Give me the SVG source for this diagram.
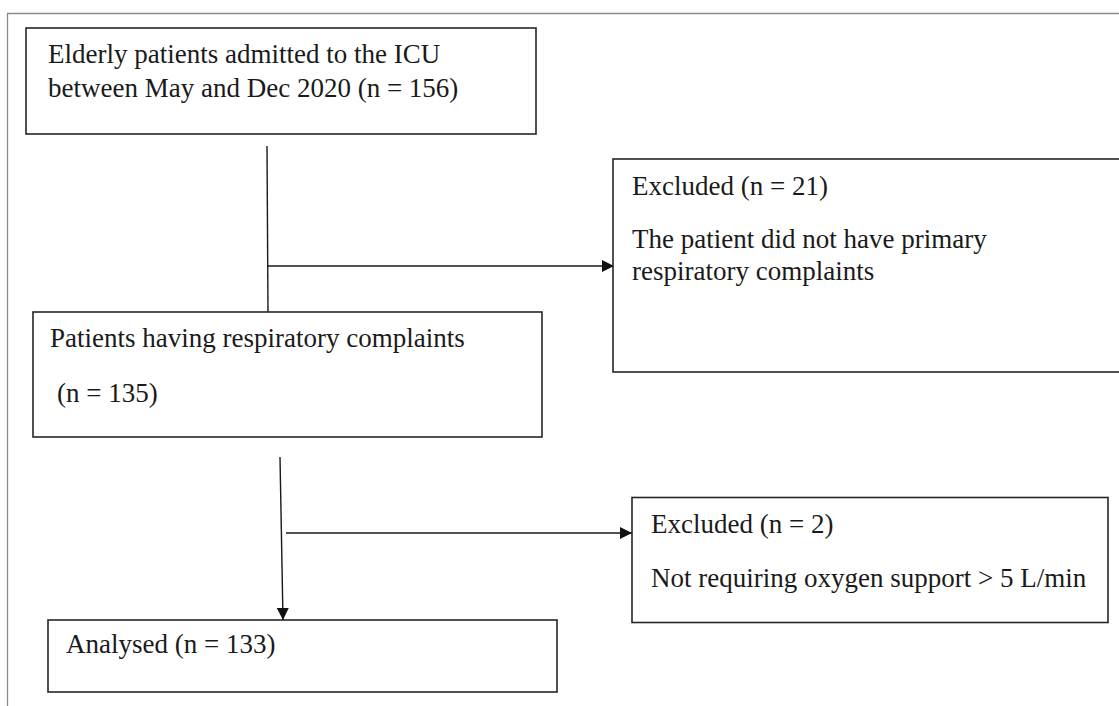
<svg xmlns="http://www.w3.org/2000/svg" width="1119" height="706" viewBox="0 0 1119 706">
<defs>
<style>
.box{fill:#fff;stroke:#262626;stroke-width:1.6}
.t{font-family:"Liberation Serif","Times New Roman",serif;font-size:27px;fill:#1a1a1a}
.ln{stroke:#1a1a1a;stroke-width:1.4;fill:none}
</style>
<marker id="arr" viewBox="0 0 12 12" refX="12" refY="6" markerWidth="12" markerHeight="12" markerUnits="userSpaceOnUse" orient="auto">
<path d="M0,0 L12,6 L0,12 z" fill="#111"/>
</marker>
</defs>
<rect width="1119" height="706" fill="#fff"/>
<path d="M7.5,706 V13.5 H1119" stroke="#8a8a8a" stroke-width="1.3" fill="none"/>
<g id="connectors">
<line class="ln" x1="267" y1="146" x2="268" y2="312"/>
<line class="ln" x1="268" y1="266" x2="614" y2="266" marker-end="url(#arr)"/>
<line class="ln" x1="280" y1="457" x2="283" y2="620" marker-end="url(#arr)"/>
<line class="ln" x1="286" y1="533" x2="632" y2="533" marker-end="url(#arr)"/>
</g>
<g id="n1">
<rect class="box" x="26" y="28" width="510" height="106"/>
<text class="t" x="48" y="63">Elderly patients admitted to the ICU</text>
<text class="t" x="48" y="97">between May and Dec 2020 (n = 156)</text>
</g>
<g id="n2">
<rect class="box" x="613" y="159" width="520" height="213"/>
<text class="t" x="632" y="195">Excluded (n = 21)</text>
<text class="t" x="632" y="248">The patient did not have primary</text>
<text class="t" x="632" y="280">respiratory complaints</text>
</g>
<g id="n3">
<rect class="box" x="33" y="312" width="509" height="125"/>
<text class="t" x="50" y="347">Patients having respiratory complaints</text>
<text class="t" x="57" y="402">(n = 135)</text>
</g>
<g id="n4">
<rect class="box" x="632" y="497.5" width="476" height="125"/>
<text class="t" x="651" y="533">Excluded (n = 2)</text>
<text class="t" x="651" y="587">Not requiring oxygen support &gt; 5 L/min</text>
</g>
<g id="n5">
<rect class="box" x="48" y="620" width="509" height="72"/>
<text class="t" x="66" y="653">Analysed (n = 133)</text>
</g>
</svg>
